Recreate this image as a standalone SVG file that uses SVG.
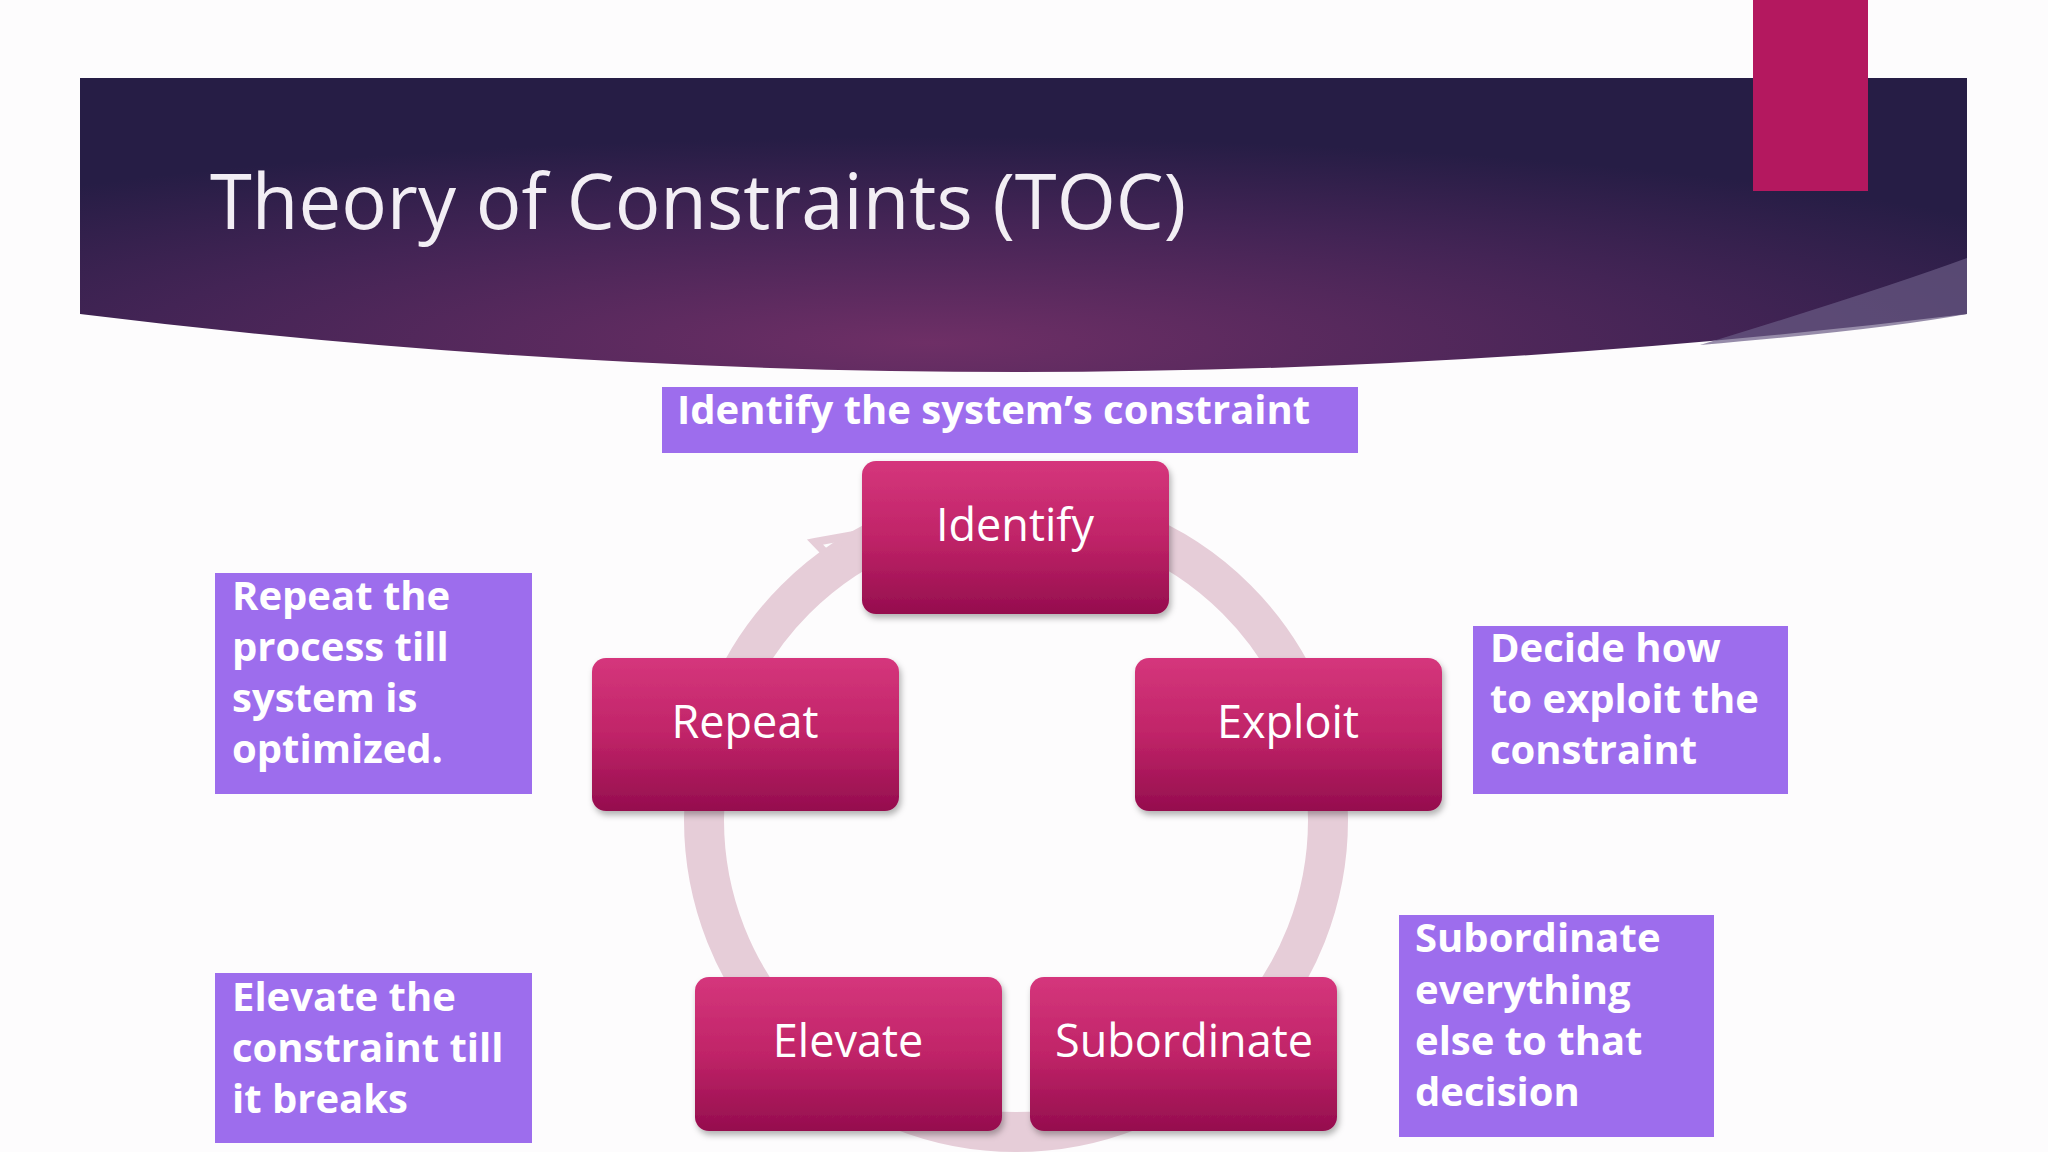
<svg xmlns="http://www.w3.org/2000/svg" width="2048" height="1152" viewBox="0 0 2048 1152">
<defs>
<radialGradient id="hdr" cx="0.45" cy="0.9" r="0.7">
<stop offset="0" stop-color="#6e2f66"/><stop offset="0.6" stop-color="#432455"/><stop offset="1" stop-color="#261d45"/>
</radialGradient>
<linearGradient id="nd" x1="0" y1="0" x2="0" y2="1">
<stop offset="0" stop-color="#d5367c"/><stop offset="0.5" stop-color="#c02468"/><stop offset="1" stop-color="#950d4e"/>
</linearGradient>
<filter id="sh" x="-10%" y="-10%" width="130%" height="130%"><feDropShadow dx="2" dy="4" stdDeviation="3" flood-color="#000" flood-opacity="0.3"/></filter>
<style>
.node rect{fill:url(#nd);filter:url(#sh)}
.nt{font-family:"Open Sans","Liberation Sans",sans-serif;font-size:45px;fill:#fff;text-anchor:middle}
.lb{fill:#9d6ded}
.lt{font-family:"Open Sans","Liberation Sans",sans-serif;font-weight:bold;font-size:40px;fill:#fff}
</style>
</defs>
<rect width="2048" height="1152" fill="#fdfcfd"/>
<path d="M80 78 H1967 V314 Q1016 430 80 314 Z" fill="url(#hdr)"/>
<path d="M1967 258 Q1880 290 1700 345 Q1880 330 1967 314 Z" fill="#6a5b84" opacity="0.7"/>
<rect x="1753" y="0" width="115" height="191" fill="#b4185f"/>
<text x="210" y="229" font-family="'Open Sans','Liberation Sans',sans-serif" font-size="76" fill="#f2eef4">Theory of Constraints (TOC)</text>
<g id="connectors">
<circle cx="1016" cy="820" r="312" fill="none" stroke="#e6cdd8" stroke-width="40"/>
<polygon points="815,542 848,536 840,568" fill="none" stroke="#e6cdd8" stroke-width="8"/>
</g>
<g id="label-identify"><rect class="lb" x="662" y="387" width="696" height="66"/><text class="lt" x="677" y="424">Identify the system’s constraint</text></g>
<g id="label-repeat"><rect class="lb" x="215" y="573" width="317" height="221"/><text class="lt" x="232" y="610">Repeat the</text><text class="lt" x="232" y="661">process till</text><text class="lt" x="232" y="712">system is</text><text class="lt" x="232" y="763">optimized.</text></g>
<g id="label-elevate"><rect class="lb" x="215" y="973" width="317" height="170"/><text class="lt" x="232" y="1011">Elevate the</text><text class="lt" x="232" y="1062">constraint till</text><text class="lt" x="232" y="1113">it breaks</text></g>
<g id="label-exploit"><rect class="lb" x="1473" y="626" width="315" height="168"/><text class="lt" x="1490" y="662">Decide how</text><text class="lt" x="1490" y="713">to exploit the</text><text class="lt" x="1490" y="764">constraint</text></g>
<g id="label-subordinate"><rect class="lb" x="1399" y="915" width="315" height="222"/><text class="lt" x="1415" y="952">Subordinate</text><text class="lt" x="1415" y="1004">everything</text><text class="lt" x="1415" y="1055">else to that</text><text class="lt" x="1415" y="1106">decision</text></g>
<g id="identify" class="node"><rect x="862" y="461" width="307" height="153" rx="14"/><text class="nt" x="1015" y="541">Identify</text></g>
<g id="repeat" class="node"><rect x="592" y="658" width="307" height="153" rx="14"/><text class="nt" x="745" y="738">Repeat</text></g>
<g id="exploit" class="node"><rect x="1135" y="658" width="307" height="153" rx="14"/><text class="nt" x="1288" y="738">Exploit</text></g>
<g id="elevate" class="node"><rect x="695" y="977" width="307" height="154" rx="14"/><text class="nt" x="848" y="1057">Elevate</text></g>
<g id="subordinate" class="node"><rect x="1030" y="977" width="307" height="154" rx="14"/><text class="nt" x="1184" y="1057">Subordinate</text></g>
</svg>
